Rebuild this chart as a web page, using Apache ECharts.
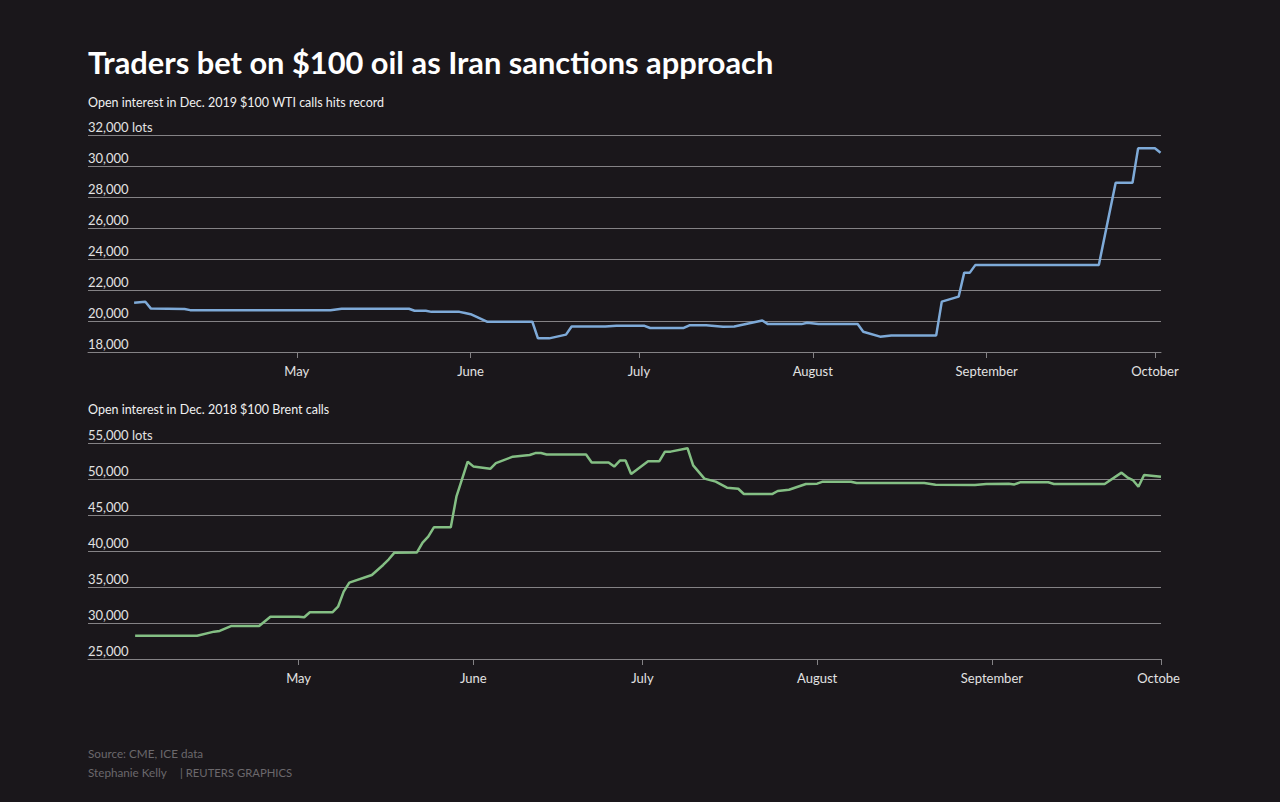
<!DOCTYPE html>
<html>
<head>
<meta charset="utf-8">
<script src="https://cdn.jsdelivr.net/npm/echarts@6/dist/echarts.min.js"></script>
<style>
  html, body { margin: 0; padding: 0; background: #1a171b; overflow: hidden; }
  #chart { width: 1180px; height: 802px; }
</style>
</head>
<body>
<div id="chart"></div>
<script>
// ---- Data ----
const monthTicks = ['2018-05-01', '2018-06-01', '2018-07-01', '2018-08-01', '2018-09-01', '2018-10-01'];
const monthLabels = ['May', 'June', 'July', 'August', 'September', 'October'];

const wtiDates = ['2018-04-02','2018-04-04','2018-04-05','2018-04-11','2018-04-12','2018-05-07','2018-05-09','2018-05-21','2018-05-22','2018-05-24','2018-05-25','2018-05-30','2018-05-31','2018-06-01','2018-06-04','2018-06-12','2018-06-13','2018-06-15','2018-06-18','2018-06-19','2018-06-25','2018-06-27','2018-07-02','2018-07-03','2018-07-09','2018-07-10','2018-07-13','2018-07-16','2018-07-18','2018-07-23','2018-07-24','2018-07-30','2018-07-31','2018-08-02','2018-08-09','2018-08-10','2018-08-13','2018-08-15','2018-08-23','2018-08-24','2018-08-27','2018-08-28','2018-08-29','2018-08-30','2018-09-21','2018-09-24','2018-09-27','2018-09-28','2018-10-01','2018-10-02'];
const wtiValues = [21180,21240,20800,20780,20700,20700,20790,20790,20660,20660,20590,20590,20520,20440,19950,19950,18880,18880,19120,19650,19650,19690,19690,19550,19550,19720,19720,19630,19640,20030,19800,19800,19890,19800,19800,19310,18990,19070,19070,21250,21570,23120,23120,23620,23620,28920,28920,31140,31140,30860];

const brentDates = ['2018-04-02','2018-04-13','2018-04-16','2018-04-17','2018-04-19','2018-04-24','2018-04-26','2018-05-01','2018-05-02','2018-05-03','2018-05-07','2018-05-08','2018-05-09','2018-05-10','2018-05-14','2018-05-16','2018-05-17','2018-05-18','2018-05-22','2018-05-23','2018-05-24','2018-05-25','2018-05-28','2018-05-29','2018-05-31','2018-06-01','2018-06-04','2018-06-05','2018-06-08','2018-06-11','2018-06-12','2018-06-13','2018-06-14','2018-06-21','2018-06-22','2018-06-25','2018-06-26','2018-06-27','2018-06-28','2018-06-29','2018-07-02','2018-07-04','2018-07-05','2018-07-06','2018-07-09','2018-07-10','2018-07-12','2018-07-14','2018-07-16','2018-07-18','2018-07-19','2018-07-24','2018-07-25','2018-07-27','2018-07-30','2018-08-01','2018-08-02','2018-08-07','2018-08-08','2018-08-20','2018-08-22','2018-08-29','2018-08-31','2018-09-04','2018-09-05','2018-09-06','2018-09-11','2018-09-12','2018-09-21','2018-09-24','2018-09-25','2018-09-26','2018-09-27','2018-09-28','2018-10-01'];
const brentValues = [28240,28240,28800,28900,29580,29580,30880,30880,30800,31490,31490,32260,34350,35600,36670,38060,38850,39770,39800,41150,41990,43290,43290,47540,52400,51750,51420,52200,53100,53330,53600,53600,53400,53400,52300,52300,51720,52560,52560,50700,52480,52480,53800,53800,54280,51900,50050,49630,48800,48650,47920,47900,48330,48500,49300,49350,49630,49630,49440,49440,49210,49180,49310,49350,49250,49540,49540,49310,49310,50880,50240,49860,48930,50560,50320];

// ---- Helpers ----
function ts(s) {
  const p = s.split(/[-T:]/).map(Number);
  return Date.UTC(p[0], p[1] - 1, p[2], p[3] || 0, p[4] || 0);
}
function fmt(v) { return String(v).replace(/\B(?=(\d{3})+(?!\d))/g, ','); }
const tickTs = monthTicks.map(ts);
function monthName(v) {
  const i = tickTs.indexOf(v);
  return i >= 0 ? monthLabels[i] : '';
}

const FONT = 'Lato, "Noto Sans", sans-serif';
const GRID_COLOR = '#848285';
const LABEL_COLOR = '#e2e2e2';

function xAxisCfg(gridIndex, minS, maxS) {
  return {
    type: 'value', gridIndex: gridIndex,
    min: ts(minS), max: ts(maxS),
    axisLine: { show: true, lineStyle: { color: GRID_COLOR, width: 1 } },
    axisTick: { show: true, customValues: tickTs, length: 6, lineStyle: { color: GRID_COLOR } },
    axisLabel: { show: true, customValues: tickTs, formatter: monthName, color: LABEL_COLOR,
                 fontFamily: FONT, fontSize: 13, margin: 12, hideOverlap: false },
    splitLine: { show: false }
  };
}
function yAxisCfg(gridIndex, min, max, interval) {
  return {
    type: 'value', gridIndex: gridIndex, min: min, max: max, interval: interval,
    axisLine: { show: false }, axisTick: { show: false },
    axisLabel: {
      inside: true, margin: 0, verticalAlign: 'bottom', padding: [0, 0, 2, 0],
      color: LABEL_COLOR, fontFamily: FONT, fontSize: 13,
      formatter: function (v) { return v === max ? fmt(v) + ' lots' : fmt(v); }
    },
    splitLine: { show: true, lineStyle: { color: GRID_COLOR, width: 1 } }
  };
}

const chart = echarts.init(document.getElementById('chart'), null, { renderer: 'svg' });
chart.setOption({
  animation: false,
  backgroundColor: '#1a171b',
  graphic: [
    { type: 'text', x: 88, y: 62, style: { text: 'Traders bet on $100 oil as Iran sanctions approach',
      fill: '#ffffff', font: 'bold 30.8px ' + FONT, verticalAlign: 'middle', align: 'left' } },
    { type: 'text', x: 88, y: 102, style: { text: 'Open interest in Dec. 2019 $100 WTI calls hits record',
      fill: '#f0f0f0', font: '12.5px ' + FONT, verticalAlign: 'middle', align: 'left' } },
    { type: 'text', x: 88, y: 409, style: { text: 'Open interest in Dec. 2018 $100 Brent calls',
      fill: '#f0f0f0', font: '12.5px ' + FONT, verticalAlign: 'middle', align: 'left' } },
    { type: 'text', x: 88, y: 753, style: { text: 'Source: CME, ICE data',
      fill: '#6b686c', font: '11.7px ' + FONT, verticalAlign: 'middle', align: 'left' } },
    { type: 'text', x: 88, y: 772, style: { text: 'Stephanie Kelly',
      fill: '#6b686c', font: '11.7px ' + FONT, verticalAlign: 'middle', align: 'left' } },
    { type: 'text', x: 180, y: 772, style: { text: '| REUTERS GRAPHICS',
      fill: '#6b686c', font: '11.3px ' + FONT, verticalAlign: 'middle', align: 'left' } }
  ],
  grid: [
    { left: 88, right: 19, top: 135, height: 217, outerBoundsMode: 'none', containLabel: false },
    { left: 88, right: 19, top: 443, height: 216, outerBoundsMode: 'none', containLabel: false }
  ],
  xAxis: [
    xAxisCfg(0, '2018-03-24T18:40', '2018-10-02T02:00'),
    xAxisCfg(1, '2018-03-24T15:20', '2018-10-01')
  ],
  yAxis: [
    yAxisCfg(0, 18000, 32000, 2000),
    yAxisCfg(1, 25000, 55000, 5000)
  ],
  series: [
    { type: 'line', xAxisIndex: 0, yAxisIndex: 0, showSymbol: false,
      lineStyle: { color: '#7eaad8', width: 2.5 }, itemStyle: { color: '#7eaad8' },
      data: wtiDates.map((d, i) => [ts(d), wtiValues[i]]) },
    { type: 'line', xAxisIndex: 1, yAxisIndex: 1, showSymbol: false,
      lineStyle: { color: '#84bf84', width: 2.5 }, itemStyle: { color: '#84bf84' },
      data: brentDates.map((d, i) => [ts(d), brentValues[i]]) }
  ]
});
</script>
</body>
</html>
